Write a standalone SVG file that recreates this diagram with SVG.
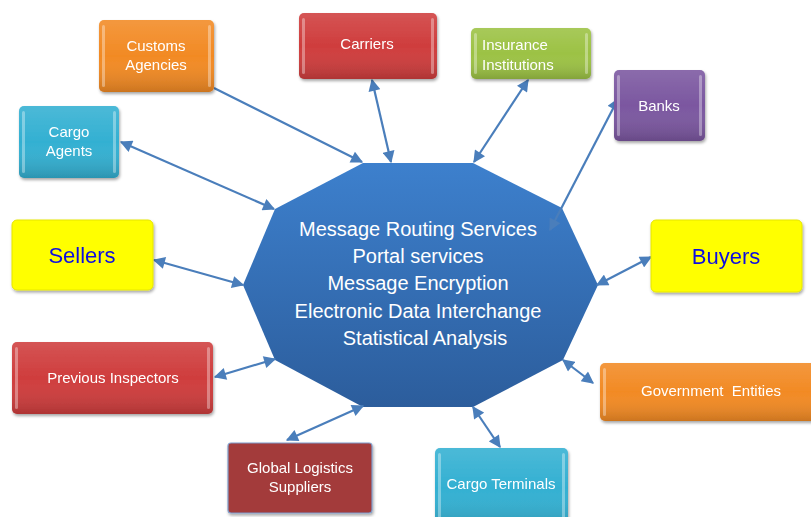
<svg xmlns="http://www.w3.org/2000/svg" width="811" height="517" viewBox="0 0 811 517">
<defs>
<linearGradient id="octo" x1="0" y1="0" x2="0" y2="1">
<stop offset="0" stop-color="#3d80cd"/>
<stop offset="1" stop-color="#2c5d9c"/>
</linearGradient>
<linearGradient id="shade" x1="0" y1="0" x2="0" y2="1">
<stop offset="0" stop-color="#fff" stop-opacity="0.12"/>
<stop offset="0.5" stop-color="#fff" stop-opacity="0"/>
<stop offset="1" stop-color="#000" stop-opacity="0.16"/>
</linearGradient>
<filter id="sh" x="-10%" y="-10%" width="125%" height="130%">
<feDropShadow dx="1" dy="2" stdDeviation="1.5" flood-color="#000" flood-opacity="0.35"/>
</filter>
<marker id="ah" viewBox="0 0 10 10" refX="9" refY="5" markerWidth="6" markerHeight="5.5" orient="auto-start-reverse" markerUnits="strokeWidth">
<path d="M0,0 L10,5 L0,10 z" fill="#4a7ebb"/>
</marker>
<style>
.lbl{font-family:"Liberation Sans",Arial,sans-serif;font-size:15px;fill:#fff;text-anchor:middle}
.big{font-family:"Liberation Sans",Arial,sans-serif;font-size:22px;fill:#1010e0;text-anchor:middle}
.ctr{font-family:"Liberation Sans",Arial,sans-serif;font-size:20px;fill:#fff;text-anchor:middle}
.hl{fill:#fff;opacity:0.35}
.ov{fill:url(#shade)}
.orange{fill:#f28a24}
.teal{fill:#33b0d2}
.red{fill:#cf3d3d}
.green{fill:#9cc244}
.purple{fill:#7b57a0}
.yellow{fill:#ffff00;stroke:#e6e600;stroke-width:1}
.box{filter:url(#sh)}
.conn line{stroke:#4a7ebb;stroke-width:2.2;fill:none}
</style>
</defs>
<rect width="811" height="517" fill="#fff"/>

<g id="hub">
<polygon points="363,163 473,163 562,208 598,285 563,360 473,407 363,407 275,360 243,285 275,209" fill="url(#octo)"/>
<text class="ctr" x="418" y="236">Message Routing Services</text>
<text class="ctr" x="418" y="263">Portal services</text>
<text class="ctr" x="418" y="290">Message Encryption</text>
<text class="ctr" x="418" y="318">Electronic Data Interchange</text>
<text class="ctr" x="425" y="345">Statistical Analysis</text>
</g>

<g class="conn">
<line x1="214" y1="88" x2="362" y2="162" marker-end="url(#ah)"/>
<line x1="121" y1="142" x2="274" y2="209" marker-start="url(#ah)" marker-end="url(#ah)"/>
<line x1="372" y1="80" x2="391" y2="162" marker-start="url(#ah)" marker-end="url(#ah)"/>
<line x1="528" y1="80" x2="474" y2="162" marker-start="url(#ah)" marker-end="url(#ah)"/>
<line x1="618" y1="99" x2="550" y2="230" marker-start="url(#ah)" marker-end="url(#ah)"/>
<line x1="651" y1="257" x2="597" y2="285" marker-start="url(#ah)" marker-end="url(#ah)"/>
<line x1="154" y1="260" x2="243" y2="285" marker-start="url(#ah)" marker-end="url(#ah)"/>
<line x1="215" y1="377" x2="275" y2="359" marker-start="url(#ah)" marker-end="url(#ah)"/>
<line x1="287" y1="440" x2="363" y2="406" marker-start="url(#ah)" marker-end="url(#ah)"/>
<line x1="563" y1="360" x2="593" y2="383" marker-start="url(#ah)" marker-end="url(#ah)"/>
<line x1="473" y1="407" x2="500" y2="447" marker-start="url(#ah)" marker-end="url(#ah)"/>
</g>

<g id="customs" class="box">
<rect class="orange" x="99" y="20" width="115" height="72" rx="5"/>
<rect class="ov" x="99" y="20" width="115" height="72" rx="5"/>
<rect class="hl" x="102" y="25" width="3" height="62" rx="1.5"/>
<rect class="hl" x="208" y="25" width="3" height="62" rx="1.5"/>
<text class="lbl" x="156" y="51">Customs</text>
<text class="lbl" x="156" y="70">Agencies</text>
</g>

<g id="cargo-agents" class="box">
<rect class="teal" x="19" y="106" width="100" height="72" rx="5"/>
<rect class="ov" x="19" y="106" width="100" height="72" rx="5"/>
<rect class="hl" x="22" y="111" width="3" height="62" rx="1.5"/>
<rect class="hl" x="113" y="111" width="3" height="62" rx="1.5"/>
<text class="lbl" x="69" y="137">Cargo</text>
<text class="lbl" x="69" y="156">Agents</text>
</g>

<g id="carriers" class="box">
<rect class="red" x="299" y="13" width="138" height="66" rx="5"/>
<rect class="ov" x="299" y="13" width="138" height="66" rx="5"/>
<rect class="hl" x="302" y="18" width="3" height="56" rx="1.5"/>
<rect class="hl" x="431" y="18" width="3" height="56" rx="1.5"/>
<text class="lbl" x="367" y="49">Carriers</text>
</g>

<g id="insurance" class="box">
<rect class="green" x="471" y="28" width="120" height="51" rx="5"/>
<rect class="ov" x="471" y="28" width="120" height="51" rx="5"/>
<rect class="hl" x="474" y="33" width="3" height="41" rx="1.5"/>
<rect class="hl" x="585" y="33" width="3" height="41" rx="1.5"/>
<text class="lbl" x="482" y="50" style="text-anchor:start">Insurance</text>
<text class="lbl" x="482" y="70" style="text-anchor:start">Institutions</text>
</g>

<g id="banks" class="box">
<rect class="purple" x="614" y="70" width="91" height="71" rx="5"/>
<rect class="ov" x="614" y="70" width="91" height="71" rx="5"/>
<rect class="hl" x="617" y="75" width="3" height="61" rx="1.5"/>
<rect class="hl" x="699" y="75" width="3" height="61" rx="1.5"/>
<text class="lbl" x="659" y="111">Banks</text>
</g>

<g id="buyers" class="box">
<rect class="yellow" x="651" y="220" width="151" height="72" rx="5"/>
<text class="big" x="726" y="264">Buyers</text>
</g>

<g id="sellers" class="box">
<rect class="yellow" x="12" y="220" width="141" height="70" rx="5"/>
<text class="big" x="82" y="263">Sellers</text>
</g>

<g id="previous-inspectors" class="box">
<rect class="red" x="12" y="342" width="201" height="72" rx="5"/>
<rect class="ov" x="12" y="342" width="201" height="72" rx="5"/>
<rect class="hl" x="15" y="347" width="3" height="62" rx="1.5"/>
<rect class="hl" x="207" y="347" width="3" height="62" rx="1.5"/>
<text class="lbl" x="113" y="383">Previous Inspectors</text>
</g>

<g id="global-logistics" class="box">
<rect x="228" y="443" width="144" height="70" rx="3" fill="#a33b3b" stroke="#7f9cc9" stroke-width="1.2"/>
<text class="lbl" x="300" y="473">Global Logistics</text>
<text class="lbl" x="300" y="492">Suppliers</text>
</g>

<g id="cargo-terminals" class="box">
<rect class="teal" x="435" y="448" width="133" height="80" rx="5"/>
<rect class="ov" x="435" y="448" width="133" height="80" rx="5"/>
<rect class="hl" x="438" y="453" width="3" height="70" rx="1.5"/>
<rect class="hl" x="562" y="453" width="3" height="70" rx="1.5"/>
<text class="lbl" x="501" y="489">Cargo Terminals</text>
</g>

<g id="government" class="box">
<rect class="orange" x="600" y="363" width="220" height="58" rx="5"/>
<rect class="ov" x="600" y="363" width="220" height="58" rx="5"/>
<rect class="hl" x="603" y="368" width="3" height="48" rx="1.5"/>
<text class="lbl" x="711" y="396" xml:space="preserve">Government  Entities</text>
</g>
</svg>
